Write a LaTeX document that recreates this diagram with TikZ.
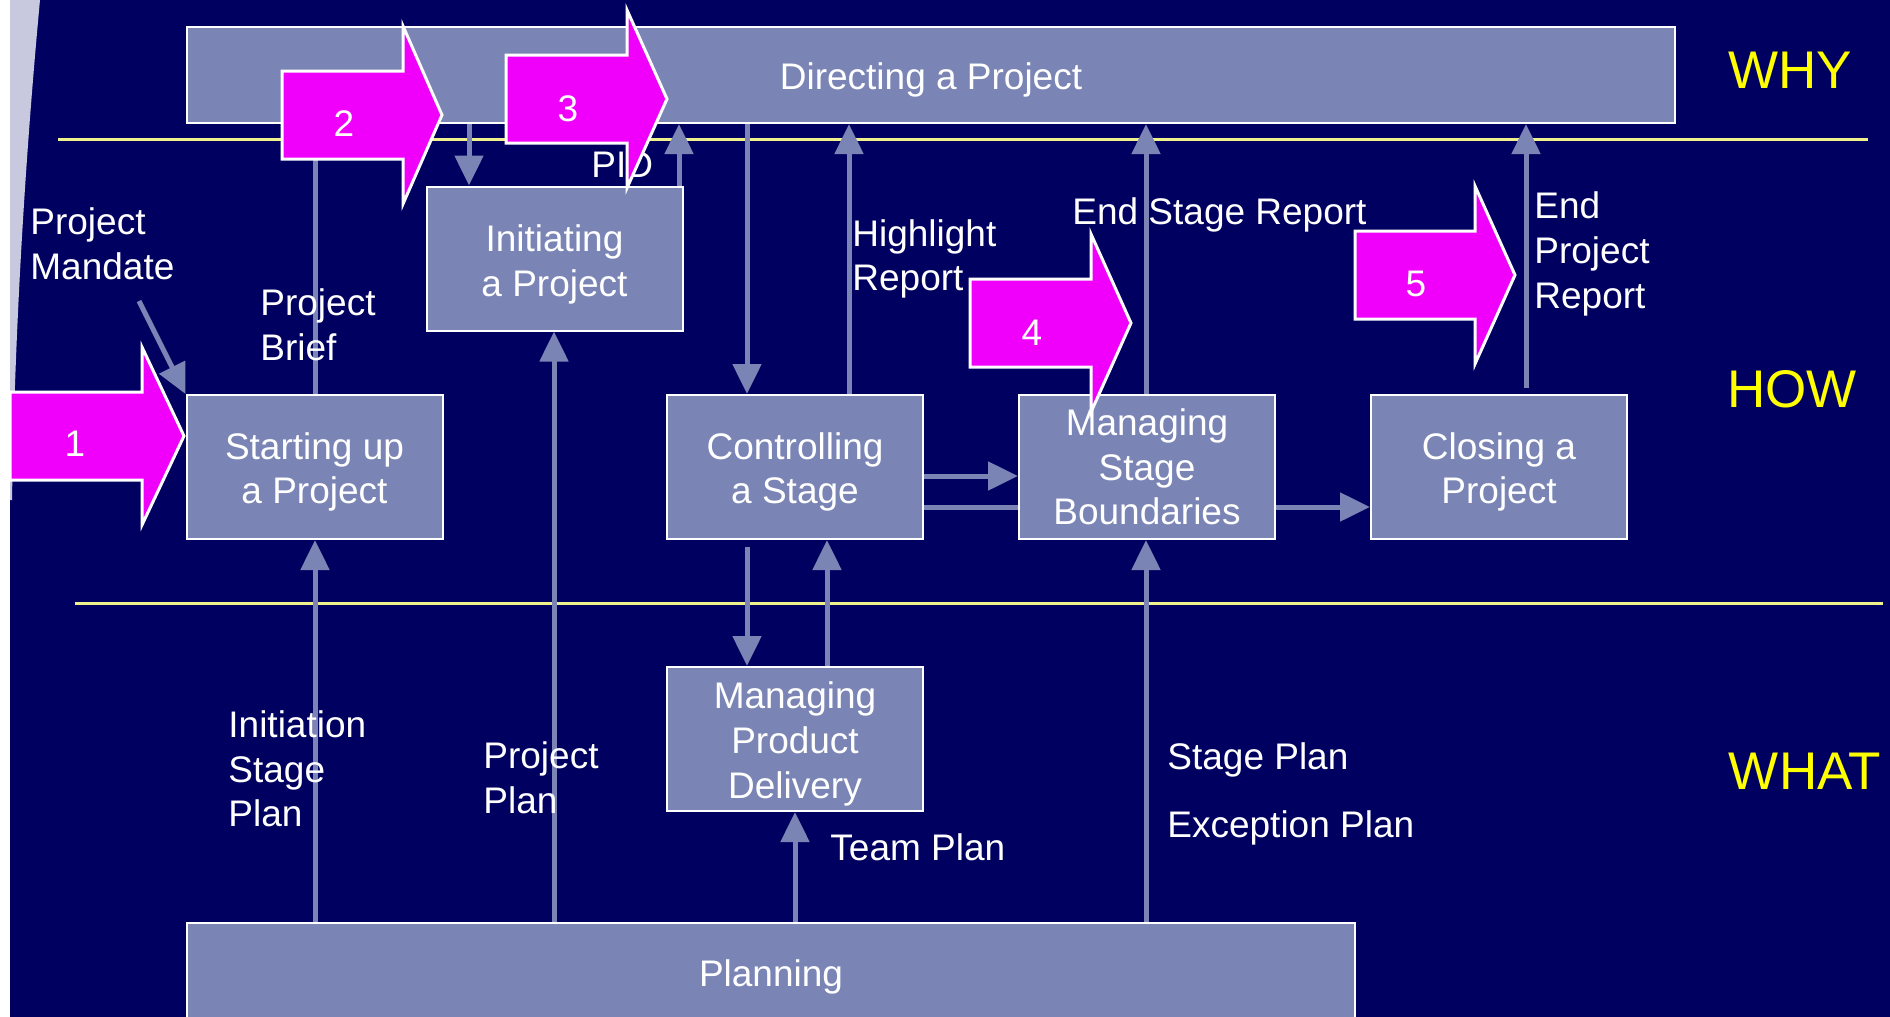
\documentclass[tikz,border=0pt]{standalone}
\usepackage{fontspec}
\setmainfont{Liberation Sans}
\usetikzlibrary{arrows.meta,calc}
\definecolor{navy}{RGB}{0,0,96}
\definecolor{boxfill}{RGB}{122,133,181}
\definecolor{mag}{RGB}{240,0,250}
\definecolor{yline}{RGB}{240,240,140}
\definecolor{stripc}{RGB}{200,200,222}
\definecolor{sideyellow}{RGB}{255,255,0}
\newcommand\lblfont{\fontsize{18.5}{22.3}\selectfont}
\newcommand\sidefont{\fontsize{26.5}{30}\selectfont}
\newcommand\blockarrow[4]{%
  \draw[magarrow] (#1,{#4-44}) -- (#2,{#4-44}) -- (#2,{#4-89}) -- (#3,#4)
    -- (#2,{#4+89}) -- (#2,{#4+44}) -- (#1,{#4+44}) -- cycle;}
\begin{document}
\begin{tikzpicture}[x=0.5pt,y=-0.5pt,
  boxc/.style={draw=white, line width=1pt, fill=boxfill, minimum width=128pt,
    minimum height=72pt, inner sep=0pt, align=center, text=white, font=\lblfont},
  box/.style={boxc, execute at begin node={\rule{0pt}{#1}}},
  box/.default=40.7pt,
  conn/.style={draw=boxfill, line width=2.5pt, -{Triangle[length=15pt,width=14pt]}},
  plainconn/.style={draw=boxfill, line width=2.5pt},
  lbl/.style={text=white, font=\lblfont, align=left, inner sep=0pt},
  side/.style={text=sideyellow, font=\sidefont, inner sep=0pt},
  magarrow/.style={fill=mag, draw=white, line width=1.5pt, line join=miter},
  num/.style={text=white, font=\lblfont, inner sep=0pt},
  yl/.style={draw=yline, line width=1.5pt}]
\useasboundingbox (0,0) rectangle (1890,1017);
% background
\fill[navy] (0,0) rectangle (1890,1017);
\fill[white] (0,0) rectangle (10,1017);
\fill[stripc] (10,0) -- (40,0) .. controls (26,150) and (15,320) .. (12,500) -- (10,500) -- cycle;
% guide lines
\draw[yl] (58,139) -- (1868,139);
\draw[yl] (75,603) -- (1883,603);
% side labels
\node[side] (why) at (1790,70) {WHY};
\node[side] (how) at (1792,389) {HOW};
\node[side] (what) at (1805,771) {WHAT};
% boxes
\node[box=18.5pt, minimum width=744pt, minimum height=48pt] (dir) at (931,75) {Directing a Project};
\node[box] (start) at (314.5,467) {Starting up\\a Project};
\node[box=41.5pt] (init) at (554.5,258.5) {Initiating\\a Project};
\node[box] (ctrl) at (795,467) {Controlling\\a Stage};
\node[boxc] (msb) at (1147,467) {Managing\\Stage\\Boundaries};
\node[box] (close) at (1499,467) {Closing a\\Project};
\node[box=63pt] (mpd) at (795,739) {Managing\\Product\\Delivery};
\node[box=18.5pt, minimum width=584pt, minimum height=49pt] (plan) at (771,972) {Planning};
% column / row coordinates
\coordinate (xb) at (315,0);
\coordinate (xc) at (469,0);
\coordinate (xd) at (679,0);
\coordinate (xf) at (554,0);
\coordinate (xg) at (747,0);
\coordinate (xh) at (849,0);
\coordinate (xi) at (1146,0);
\coordinate (xj) at (1526,0);
\coordinate (xn) at (827,0);
\coordinate (xo) at (795,0);
\coordinate (ya) at (0,476);
\coordinate (yb) at (0,507);
\coordinate (pm) at (139,301);
% connectors
\draw[conn] (pm) -- (start.north west);
\draw[conn] (xb |- start.north) -- (xb |- dir.south);
\draw[conn] (xc |- dir.south) -- (xc |- init.north);
\draw[conn] (xd |- init.north) -- (xd |- dir.south);
\draw[conn] (xb |- plan.north) -- (xb |- start.south);
\draw[conn] (xf |- plan.north) -- (xf |- init.south);
\draw[conn] (xg |- dir.south) -- (xg |- ctrl.north);
\draw[conn] (xh |- ctrl.north) -- (xh |- dir.south);
\draw[conn] (xi |- msb.north) -- (xi |- dir.south);
\draw[conn] ($(xj |- close.north)+(0,-6)$) -- (xj |- dir.south);
\draw[conn] (ctrl.east |- ya) -- (msb.west |- ya);
\draw[plainconn] (ctrl.east |- yb) -- (msb.west |- yb);
\draw[conn] (msb.east |- yb) -- (close.west |- yb);
\draw[conn] ($(xg |- ctrl.south)+(0,7)$) -- (xg |- mpd.north);
\draw[conn] (xn |- mpd.north) -- (xn |- ctrl.south);
\draw[conn] (xo |- plan.north) -- (xo |- mpd.south);
\draw[conn] (xi |- plan.north) -- (xi |- msb.south);
% labels
\node[lbl, anchor=west] (lmandate) at (30,244) {Project\\Mandate};
\node[lbl, anchor=west] (lbrief) at (260,325) {Project\\Brief};
\node[lbl, anchor=west] (lpid) at (591,165) {PID};
\node[lbl, anchor=west] (lhigh) at (852,259) {Highlight\\Report};
\node[lbl, anchor=west] (lesr) at (1072,215) {End Stage Report};
\node[lbl, anchor=west] (lepr) at (1534,254) {End\\Project\\Report};
\node[lbl, anchor=west] (linit) at (228,769) {Initiation\\Stage\\Plan};
\node[lbl, anchor=west] (lpp) at (483,778) {Project\\Plan};
\node[lbl, anchor=west] (lteam) at (830,847) {Team Plan};
\node[lbl, anchor=west] (lsp) at (1167,760) {Stage Plan};
\node[lbl, anchor=west] (lexc) at (1167,828) {Exception Plan};
% magenta process arrows
\blockarrow{10}{142}{184}{436}
\blockarrow{282}{403}{442}{115}
\blockarrow{506}{627}{667}{99}
\blockarrow{970}{1091}{1131}{323}
\blockarrow{1355}{1475}{1515}{275}
\node[num] (n1) at (75,444) {1};
\node[num] (n2) at (344,124) {2};
\node[num] (n3) at (568,109) {3};
\node[num] (n4) at (1032,333) {4};
\node[num] (n5) at (1416,284) {5};
\end{tikzpicture}
\end{document}
